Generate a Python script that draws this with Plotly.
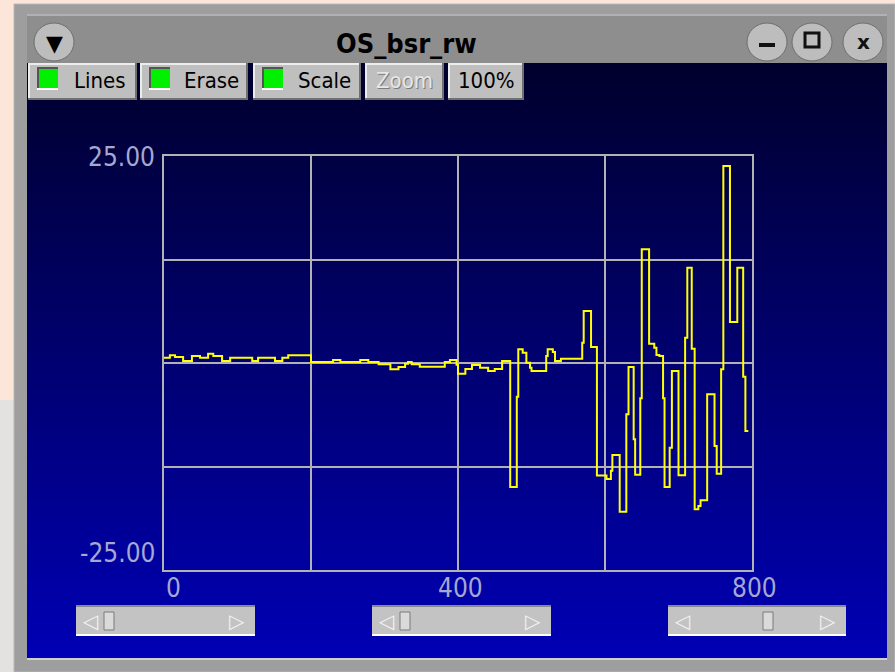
import plotly.graph_objects as go

W, H = 895, 672

# Sampled trace: each value is held until the next sample (step display)
sample_x = [0, 8, 15, 26, 38, 49, 60, 67, 79, 90, 120, 128, 151, 161, 169,
            200, 230, 240, 267, 278, 292, 308, 319, 328, 332, 337, 348, 382, 389, 398,
            400, 410, 419, 430, 441, 450, 460, 471, 480, 482, 488, 493, 498, 500, 520,
            522, 529, 532, 540, 569, 571, 581, 589, 602, 608, 610, 620, 629, 632, 639,
            641, 648, 650, 660, 667, 670, 674, 679, 681, 688, 691, 700, 709, 712, 718,
            722, 727, 730, 739, 749, 752, 758, 761, 770, 780, 788, 791, 795]
sample_y = [0.64, 0.93, 0.72, 0.24, 0.85, 0.64, 1.12, 0.85, 0.24, 0.64, 0.24, 0.64, 0.24, 0.64, 0.93,
            0.12, 0.36, 0.12, 0.36, 0.12, -0.16, -0.76, -0.48, -0.08, 0.12, -0.16, -0.45, 0.12, 0.36, -0.2,
            -1.29, -0.72, -0.24, -0.57, -0.97, -0.72, 0.24, -14.98, -4.07, 1.65, 1.24, 0.04, -0.57, -0.97, 0.85,
            1.65, 1.33, 0.24, 0.52, 2.45, 6.28, 1.93, -13.6, -14.0, -13.0, -11.1, -17.96, -6.2, -0.48, -9.2,
            -13.5, -4.26, 13.73, 2.33, 1.85, 0.97, 0.85, -4.26, -14.98, -10.23, -0.97, -13.56, 3.06, 11.51, 1.73,
            -17.67, -17.27, -16.58, -3.78, -10.02, -13.37, -0.76, 23.79, 4.95, 11.51, -1.65, -8.21, -8.21]

x_range = [0, 800]
y_range = [-25, 25]
x_grid = [0, 200, 400, 600, 800]
y_grid = [-25, -12.5, 0, 12.5, 25]
x_labels = {0: "0", 400: "400", 800: "800"}
y_labels = {25: "25.00", -25: "-25.00"}

title_text = "OS_bsr_rw"

# plot area in window pixels
PL, PR, PT, PB = 164, 752, 156, 570


def px(x):
    return x / W


def py(y):
    return 1 - y / H


shapes = []
annotations = []


def rect(x0, y0, x1, y1, fill, line=None, lw=0):
    shapes.append(dict(type="rect", xref="paper", yref="paper",
                       x0=px(x0), x1=px(x1), y0=py(y1), y1=py(y0),
                       fillcolor=fill, layer="below",
                       line=dict(color=line or fill, width=lw)))


def seg(x0, y0, x1, y1, color, lw=1):
    shapes.append(dict(type="line", xref="paper", yref="paper",
                       x0=px(x0), x1=px(x1), y0=py(y0), y1=py(y1),
                       layer="below", line=dict(color=color, width=lw)))


def text(x, y, s, size, color, xanchor="center", font="DejaVu Sans Condensed", bold=False):
    if bold:
        s = "<b>%s</b>" % s
    annotations.append(dict(xref="paper", yref="paper", x=px(x), y=py(y),
                            text=s, showarrow=False, xanchor=xanchor, yanchor="middle",
                            font=dict(family=font, size=size, color=color)))


# desktop behind the window
rect(0, 400, 14, 672, "#e4e2df")

# window frame
rect(14, 4, 895, 672, "#9e9e9e", "#b8b8b8", 1)
seg(27, 15, 887, 15, "#c4c4c4", 1)
rect(27, 16, 887, 63, "#8e8e8e")

# content area: vertical blue gradient
n_strips = 60
top, bottom = 63, 658
step = (bottom - top) / n_strips
for i in range(n_strips):
    t = i / (n_strips - 1)
    b = int(46 + t * (180 - 46))
    rect(27, top + i * step, 887, top + (i + 1) * step + 1, "rgb(0,0,%d)" % b)
seg(27, 659, 887, 659, "#d0d0d0", 2)

# title bar round buttons
for cx in (54, 767, 812, 863):
    shapes.append(dict(type="circle", xref="paper", yref="paper",
                       x0=px(cx - 20), x1=px(cx + 20), y0=py(61), y1=py(23),
                       fillcolor="#bdbdbd", layer="below",
                       line=dict(color="#6e6e6e", width=1)))
text(54, 43, "▼", 22, "#000000", font="DejaVu Sans")
rect(759, 43, 775, 47, "#111111")
rect(805, 33, 819, 47, "rgba(0,0,0,0)", "#111111", 3)
text(863, 42, "x", 20, "#111111", bold=True, font="DejaVu Sans")
text(406, 43, title_text, 27, "#000000", bold=True)

# toolbar buttons
buttons = [(28, 137, "Lines", True), (140, 248, "Erase", True), (253, 361, "Scale", True),
           (365, 444, "Zoom", False), (448, 524, "100%", False)]
for x0, x1, label, toggle in buttons:
    rect(x0, 63, x1, 100, "#bfbfbf")
    seg(x0, 64, x1, 64, "#ececec", 2)
    seg(x0 + 1, 63, x0 + 1, 100, "#ececec", 2)
    seg(x0, 99, x1, 99, "#707070", 2)
    seg(x1 - 1, 63, x1 - 1, 100, "#707070", 2)
    if toggle:
        rect(x0 + 9, 67, x0 + 30, 90, "#00f000")
        seg(x0 + 9, 68, x0 + 30, 68, "#555555", 2)
        seg(x0 + 10, 67, x0 + 10, 90, "#555555", 2)
        seg(x0 + 9, 89, x0 + 30, 89, "#ffffff", 2)
        text((x0 + 30 + x1) / 2 + 2, 80, label, 22, "#000000")
    elif label == "Zoom":
        text((x0 + x1) / 2 + 1, 81, label, 22, "#7c7c7c")
        text((x0 + x1) / 2, 80, label, 22, "#e6e6e6")
    else:
        text((x0 + x1) / 2, 80, label, 22, "#000000")

# scrollbars under the plot
for x0, x1, thumb in ((76, 255, 104), (372, 551, 400), (668, 846, 763)):
    rect(x0, 605, x1, 636, "#c3c3c3")
    seg(x0, 606, x1, 606, "#8a8a8a", 2)
    seg(x0, 635, x1, 635, "#ffffff", 2)
    text(x0 + 14, 621, "◁", 20, "#f2f2f2", font="DejaVu Sans")
    text(x1 - 18, 621, "▷", 20, "#f2f2f2", font="DejaVu Sans")
    rect(thumb, 612, thumb + 10, 630, "#dadada", "#7a7a7a", 1)

# axis labels
lab_color = "#a6a8d0"
for v, s in y_labels.items():
    yy = PT + 1 if v > 0 else PB - 17
    text(157, yy, s, 26, lab_color, xanchor="right")
for v, s in x_labels.items():
    xx = PL + (v - x_range[0]) / (x_range[1] - x_range[0]) * (PR - PL)
    if v == 0:
        xx += 7
    text(xx + 2, 588, s, 26, lab_color)

fig = go.Figure()
fig.add_trace(go.Scatter(x=sample_x, y=sample_y, mode="lines",
                         line=dict(color="#ffff00", width=2, shape="hv"),
                         hoverinfo="skip", showlegend=False))

axis_common = dict(showgrid=True, gridcolor="#b2b2b2", gridwidth=2, zeroline=False,
                   showline=True, mirror=True, linecolor="#b2b2b2", linewidth=2,
                   showticklabels=False, ticks="", fixedrange=True)
fig.update_layout(
    width=W, height=H,
    margin=dict(l=0, r=0, t=0, b=0),
    paper_bgcolor="#fce6da",
    plot_bgcolor="#000000",
    xaxis=dict(domain=[px(PL), px(PR)], range=x_range, tickvals=x_grid, **axis_common),
    yaxis=dict(domain=[py(PB), py(PT)], range=y_range, tickvals=y_grid, **axis_common),
    shapes=shapes,
    annotations=annotations,
    showlegend=False,
)

fig.write_html("out.html")
